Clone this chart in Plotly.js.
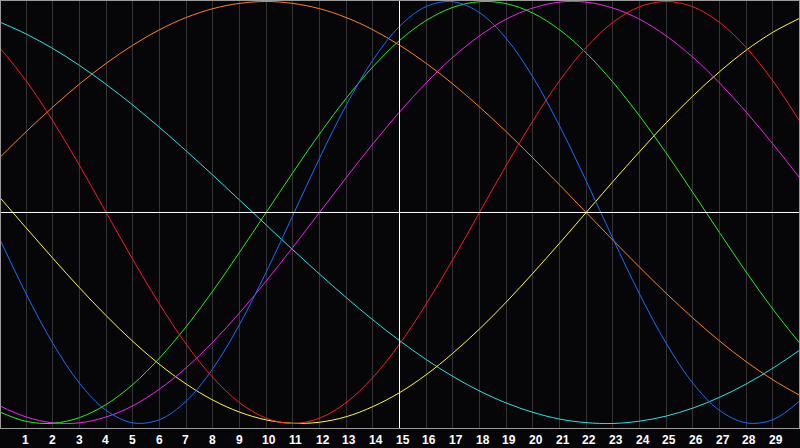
<!DOCTYPE html>
<html>
<head>
<meta charset="utf-8">
<script src="https://cdn.plot.ly/plotly-3.0.1.min.js"></script>
<style>
  html, body { margin: 0; padding: 0; background: #060608; }
  #chart { width: 800px; height: 448px; }
</style>
</head>
<body>
<div id="chart"></div>
<script>
// Days along the bottom axis (0 = left edge, 30 = right edge)
const days = [0, 1, 2, 3, 4, 5, 6, 7, 8, 9, 10, 11, 12, 13, 14, 15,
              16, 17, 18, 19, 20, 21, 22, 23, 24, 25, 26, 27, 28, 29, 30];
const tickDays = [1, 2, 3, 4, 5, 6, 7, 8, 9, 10, 11, 12, 13, 14, 15,
                  16, 17, 18, 19, 20, 21, 22, 23, 24, 25, 26, 27, 28, 29];
const tickLabels = tickDays.map(String);
const today = 15;

// Values, one per day (-1 .. 1)
const blue = [-0.123, -0.386, -0.620, -0.809, -0.938, -0.997, -0.982, -0.894, -0.740, -0.531,
              -0.283, -0.014, 0.257, 0.508, 0.722, 0.882, 0.976, 0.999, 0.947, 0.825,
              0.642, 0.411, 0.150, -0.123, -0.386, -0.620, -0.809, -0.938, -0.997, -0.982, -0.894];
const red = [0.782, 0.624, 0.434, 0.223, 0.000, -0.223, -0.434, -0.624, -0.782, -0.901,
             -0.975, -1.000, -0.975, -0.901, -0.782, -0.624, -0.434, -0.223, 0.000, 0.223,
             0.434, 0.624, 0.782, 0.901, 0.975, 1.000, 0.975, 0.901, 0.782, 0.624, 0.434];
const green = [-0.945, -0.990, -0.999, -0.972, -0.910, -0.815, -0.690, -0.541, -0.372, -0.189,
               0.000, 0.189, 0.372, 0.541, 0.690, 0.815, 0.910, 0.972, 0.999, 0.990,
               0.945, 0.866, 0.756, 0.618, 0.458, 0.282, 0.095, -0.095, -0.282, -0.458, -0.618];
const magenta = [-0.916, -0.969, -0.997, -0.997, -0.969, -0.916, -0.837, -0.736, -0.614, -0.476,
                 -0.325, -0.165, 0.000, 0.165, 0.325, 0.476, 0.614, 0.736, 0.837, 0.916,
                 0.969, 0.997, 0.997, 0.969, 0.916, 0.837, 0.736, 0.614, 0.476, 0.325, 0.165];
const yellow = [0.073, -0.073, -0.217, -0.357, -0.489, -0.611, -0.720, -0.813, -0.889, -0.946,
                -0.983, -0.999, -0.994, -0.968, -0.920, -0.854, -0.769, -0.667, -0.552, -0.425,
                -0.288, -0.146, 0.000, 0.146, 0.288, 0.425, 0.552, 0.667, 0.769, 0.854, 0.920];
const orange = [0.259, 0.383, 0.500, 0.609, 0.707, 0.793, 0.866, 0.924, 0.966, 0.991,
                1.000, 0.991, 0.966, 0.924, 0.866, 0.793, 0.707, 0.609, 0.500, 0.383,
                0.259, 0.131, 0.000, -0.131, -0.259, -0.383, -0.500, -0.609, -0.707, -0.793, -0.866];
const cyan = [0.903, 0.846, 0.777, 0.697, 0.607, 0.509, 0.403, 0.292, 0.177, 0.059,
              -0.059, -0.177, -0.292, -0.403, -0.509, -0.607, -0.697, -0.777, -0.846, -0.903,
              -0.947, -0.979, -0.996, -1.000, -0.989, -0.965, -0.927, -0.876, -0.813, -0.738, -0.653];

const series = [
  { y: cyan, color: '#22e6e6' },
  { y: orange, color: '#ff8418' },
  { y: yellow, color: '#ffff22' },
  { y: magenta, color: '#f024f0' },
  { y: green, color: '#22f022' },
  { y: red, color: '#ff1a1a' },
  { y: blue, color: '#1c6cff' }
];

const traces = series.map(s => ({
  x: days,
  y: s.y,
  type: 'scatter',
  mode: 'lines',
  line: { color: s.color, width: 1, shape: 'spline', smoothing: 1 },
  hoverinfo: 'skip'
}));

// day labels sit left-aligned just before each grid line
const labels = tickDays.map((d, i) => ({
  x: d,
  y: 0,
  xref: 'x',
  yref: 'paper',
  xanchor: 'left',
  yanchor: 'top',
  xshift: -6,
  yshift: -3,
  showarrow: false,
  text: '<b>' + tickLabels[i] + '</b>',
  font: { family: 'Liberation Sans, Arial, sans-serif', size: 12, color: '#ffffff' }
}));

// ranges nudged half a pixel so the white cross lands on whole pixels
const layout = {
  width: 800,
  height: 448,
  margin: { l: 1, r: 1, t: 1, b: 20 },
  paper_bgcolor: '#060608',
  plot_bgcolor: '#060608',
  showlegend: false,
  xaxis: {
    range: [0.05625, 29.98125],
    tickvals: tickDays,
    showticklabels: false,
    ticks: '',
    showgrid: true,
    gridcolor: '#343434',
    gridwidth: 1,
    zeroline: false,
    showline: true,
    mirror: true,
    linecolor: '#9a9a9a',
    linewidth: 1,
    fixedrange: true
  },
  yaxis: {
    range: [-1.0214, 1.0023],
    showgrid: false,
    showticklabels: false,
    ticks: '',
    zeroline: false,
    showline: true,
    mirror: true,
    linecolor: '#9a9a9a',
    linewidth: 1,
    fixedrange: true
  },
  shapes: [
    { type: 'line', xref: 'paper', x0: 0, x1: 1, yref: 'y', y0: 0, y1: 0,
      line: { color: '#ffffff', width: 1 } },
    { type: 'line', xref: 'x', x0: today, x1: today, yref: 'paper', y0: 0, y1: 1,
      line: { color: '#ffffff', width: 1 } }
  ],
  annotations: labels
};

Plotly.newPlot('chart', traces, layout, { displayModeBar: false, staticPlot: true });
</script>
</body>
</html>
